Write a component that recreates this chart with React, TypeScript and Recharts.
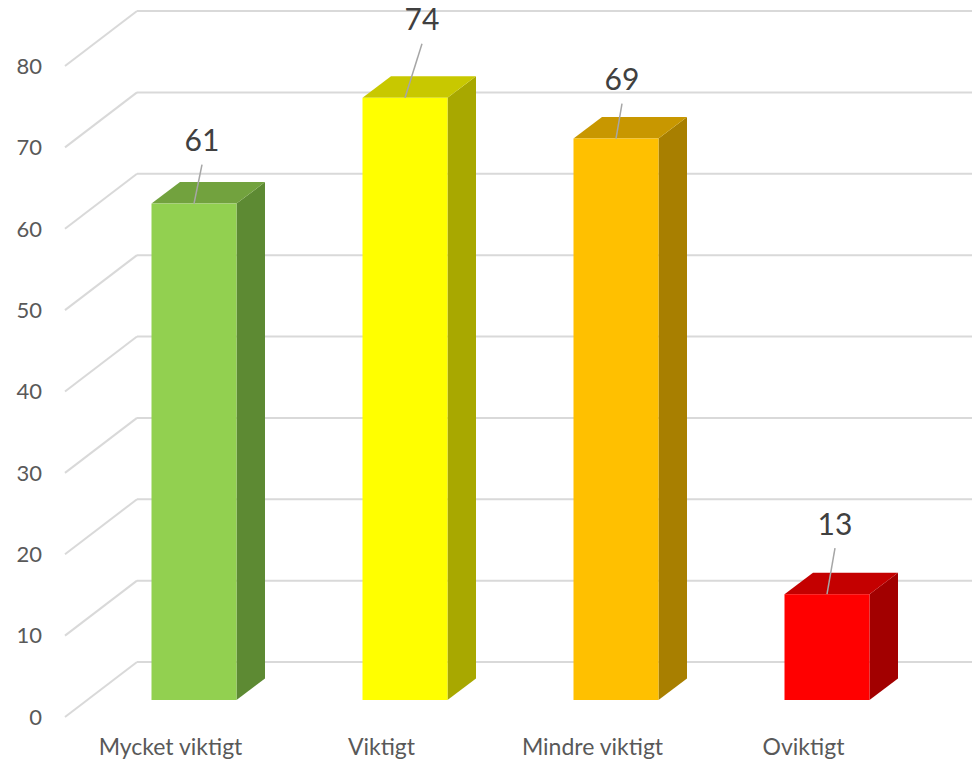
import React from 'react';
import { BarChart, Bar, XAxis, YAxis, CartesianGrid, LabelList, Cell } from 'recharts';

const categories = ['Mycket viktigt', 'Viktigt', 'Mindre viktigt', 'Oviktigt'];
const values = [61, 74, 69, 13];
const yTicks = [0, 10, 20, 30, 40, 50, 60, 70, 80];

// front / top / side shades for each column
const frontColors = ['#92D050', '#FFFF00', '#FFC000', '#FF0000'];
const topColors = ['#72A23E', '#C8C800', '#C89700', '#C40000'];
const sideColors = ['#5D8A33', '#A8A800', '#A87F00', '#A20000'];

// hand-moved data labels (offset from the top edge of each column)
const labelNudge = [
  { dx: 8, dy: -63 },
  { dx: 17, dy: -78 },
  { dx: 6, dy: -59 },
  { dx: 8, dy: -70 },
];

const data = categories.map((name, i) => ({ name, value: values[i] }));

// 3D projection
const WALL_DX = 72;
const WALL_DY = -55;
const BAR_SHIFT_X = 23.5;
const BAR_SHIFT_Y = -17;
const DEPTH_X = 28.5;
const DEPTH_Y = -21.5;
const CHART_W = 972;
const CHART_H = 761;

function GridLine(props: any) {
  const { x1, y1 } = props;
  const bx = x1 + WALL_DX;
  const by = y1 + WALL_DY;
  return (
    <g>
      <line x1={x1} y1={y1} x2={bx} y2={by} stroke="#D9D9D9" strokeWidth={2} />
      <line x1={bx} y1={by} x2={CHART_W} y2={by} stroke="#D9D9D9" strokeWidth={2} />
    </g>
  );
}

function Box(props: any) {
  const { x, y, width, height, index } = props;
  const fx = x + BAR_SHIFT_X;
  const fy = y + BAR_SHIFT_Y;
  const r = fx + width;
  const b = fy + height;
  const top = `${fx},${fy} ${r},${fy} ${r + DEPTH_X},${fy + DEPTH_Y} ${fx + DEPTH_X},${fy + DEPTH_Y}`;
  const side = `${r},${fy} ${r + DEPTH_X},${fy + DEPTH_Y} ${r + DEPTH_X},${b + DEPTH_Y} ${r},${b}`;
  return (
    <g>
      <polygon points={side} fill={sideColors[index]} />
      <polygon points={top} fill={topColors[index]} />
      <rect x={fx} y={fy} width={width} height={height} fill={frontColors[index]} />
    </g>
  );
}

function ValueLabel(props: any) {
  const { x, y, width, value, index } = props;
  const cx = x + BAR_SHIFT_X + width / 2;
  const cy = y + BAR_SHIFT_Y;
  const n = labelNudge[index];
  const lx = cx + n.dx;
  const ly = cy + n.dy;
  return (
    <g>
      <line x1={lx} y1={ly + 24} x2={cx} y2={cy} stroke="#A6A6A6" strokeWidth={1.5} />
      <text x={lx} y={ly} dy="0.35em" textAnchor="middle" fontSize={30} fill="#404040">
        {value}
      </text>
    </g>
  );
}

export default function App() {
  return (
    <div style={{ position: 'absolute', left: 0, top: 0, background: '#fff', fontFamily: 'Lato, sans-serif' }}>
      <BarChart
        width={CHART_W}
        height={CHART_H}
        data={data}
        margin={{ top: 66, right: 63, bottom: 0, left: 0 }}
        style={{ fontFamily: 'Lato, sans-serif' }}
      >
        <CartesianGrid vertical={false} horizontal={GridLine} />
        <XAxis
          dataKey="name"
          height={44}
          axisLine={false}
          tickLine={false}
          tickSize={0}
          tickMargin={22}
          interval={0}
          tick={{ fontSize: 23, fill: '#595959' }}
        />
        <YAxis
          width={65}
          domain={[0, 80]}
          ticks={yTicks}
          axisLine={false}
          tickLine={false}
          tickSize={0}
          tickMargin={23}
          tick={{ fontSize: 22, fill: '#595959' }}
        />
        <Bar dataKey="value" barSize={85} shape={<Box />} isAnimationActive={false}>
          {data.map((d, i) => (
            <Cell key={d.name} fill={frontColors[i]} />
          ))}
          <LabelList dataKey="value" content={<ValueLabel />} />
        </Bar>
      </BarChart>
    </div>
  );
}
